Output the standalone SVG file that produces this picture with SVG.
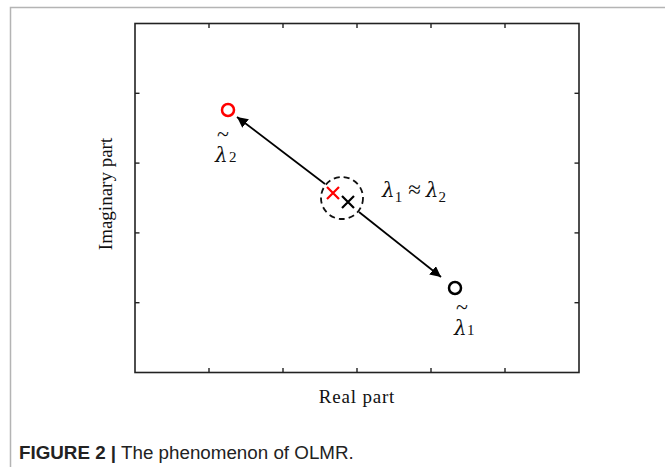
<svg xmlns="http://www.w3.org/2000/svg" width="665" height="467" viewBox="0 0 665 467">
<style>
.axis{fill:none;stroke:#222;stroke-width:1.6}
.tick{stroke:#222;stroke-width:1.4}
.lbl{font-family:"Liberation Serif",serif;font-size:19px;fill:#111;letter-spacing:0.8px}
.lam{font-family:"DejaVu Serif",serif;font-size:20px;font-style:italic;fill:#111}
.op{font-family:"Liberation Serif",serif;font-size:23px;fill:#111}
.sub{font-family:"Liberation Serif",serif;font-size:15px;fill:#111}
.til{font-family:"Liberation Serif",serif;font-size:22px;fill:#111}
.conn{stroke:#000;stroke-width:1.8;fill:none}
.cap{font-family:"Liberation Sans",Arial,sans-serif;font-size:18.8px;fill:#222}
</style>
<defs>
<marker id="ah" viewBox="0 0 10 10" refX="10" refY="5" markerWidth="6" markerHeight="6" markerUnits="strokeWidth" orient="auto">
<path d="M0,0 L10,5 L0,10 Z" fill="#000"/>
</marker>
</defs>
<rect width="665" height="467" fill="#fff"/>
<path d="M10.5,480 L10.5,7.5 L680,7.5" fill="none" stroke="#b4b4b4" stroke-width="1.5"/>
<g id="axes">
<rect class="axis" x="135" y="23.5" width="444" height="349"/>
<g class="tick">
<line x1="209" y1="23.5" x2="209" y2="28"/><line x1="283" y1="23.5" x2="283" y2="28"/><line x1="357" y1="23.5" x2="357" y2="28"/><line x1="431" y1="23.5" x2="431" y2="28"/><line x1="505" y1="23.5" x2="505" y2="28"/>
<line x1="209" y1="372.5" x2="209" y2="368"/><line x1="283" y1="372.5" x2="283" y2="368"/><line x1="357" y1="372.5" x2="357" y2="368"/><line x1="431" y1="372.5" x2="431" y2="368"/><line x1="505" y1="372.5" x2="505" y2="368"/>
<line x1="135" y1="93.3" x2="139.5" y2="93.3"/><line x1="135" y1="163.1" x2="139.5" y2="163.1"/><line x1="135" y1="232.9" x2="139.5" y2="232.9"/><line x1="135" y1="302.7" x2="139.5" y2="302.7"/>
<line x1="579" y1="93.3" x2="574.5" y2="93.3"/><line x1="579" y1="163.1" x2="574.5" y2="163.1"/><line x1="579" y1="232.9" x2="574.5" y2="232.9"/><line x1="579" y1="302.7" x2="574.5" y2="302.7"/>
</g>
<text class="lbl" x="357" y="403" text-anchor="middle">Real part</text>
<text class="lbl" transform="translate(112,194) rotate(-90)" text-anchor="middle" style="letter-spacing:0">Imaginary part</text>
</g>
<g id="connectors">
<line class="conn" x1="325" y1="184" x2="237" y2="117" marker-end="url(#ah)"/>
<line class="conn" x1="359" y1="212" x2="441" y2="277" marker-end="url(#ah)"/>
</g>
<g id="center">
<circle cx="342" cy="198" r="21" fill="none" stroke="#111" stroke-width="1.8" stroke-dasharray="6,4"/>
<path d="M327,187 L339,199 M339,187 L327,199" stroke="#ff0000" stroke-width="2.2"/>
<path d="M342,196 L354,208 M354,196 L342,208" stroke="#000" stroke-width="2.2"/>
<text x="382" y="197"><tspan class="lam">λ</tspan><tspan class="sub" dy="5">1</tspan><tspan class="op" dy="-5" dx="6">≈</tspan><tspan class="lam" dx="5">λ</tspan><tspan class="sub" dy="5">2</tspan></text>
</g>
<g id="lambda2">
<circle cx="228" cy="110" r="6" fill="none" stroke="#ff0000" stroke-width="2.5"/>
<text><tspan class="til" x="217" y="141">~</tspan><tspan class="lam" x="215" y="162">λ</tspan><tspan class="sub" x="229" y="162">2</tspan></text>
</g>
<g id="lambda1">
<circle cx="455" cy="288" r="6" fill="none" stroke="#000" stroke-width="2.5"/>
<text><tspan class="til" x="456" y="314">~</tspan><tspan class="lam" x="454" y="335">λ</tspan><tspan class="sub" x="467" y="335">1</tspan></text>
</g>
<text class="cap" x="19" y="459"><tspan font-weight="bold">FIGURE 2 |</tspan> The phenomenon of OLMR.</text>
</svg>
